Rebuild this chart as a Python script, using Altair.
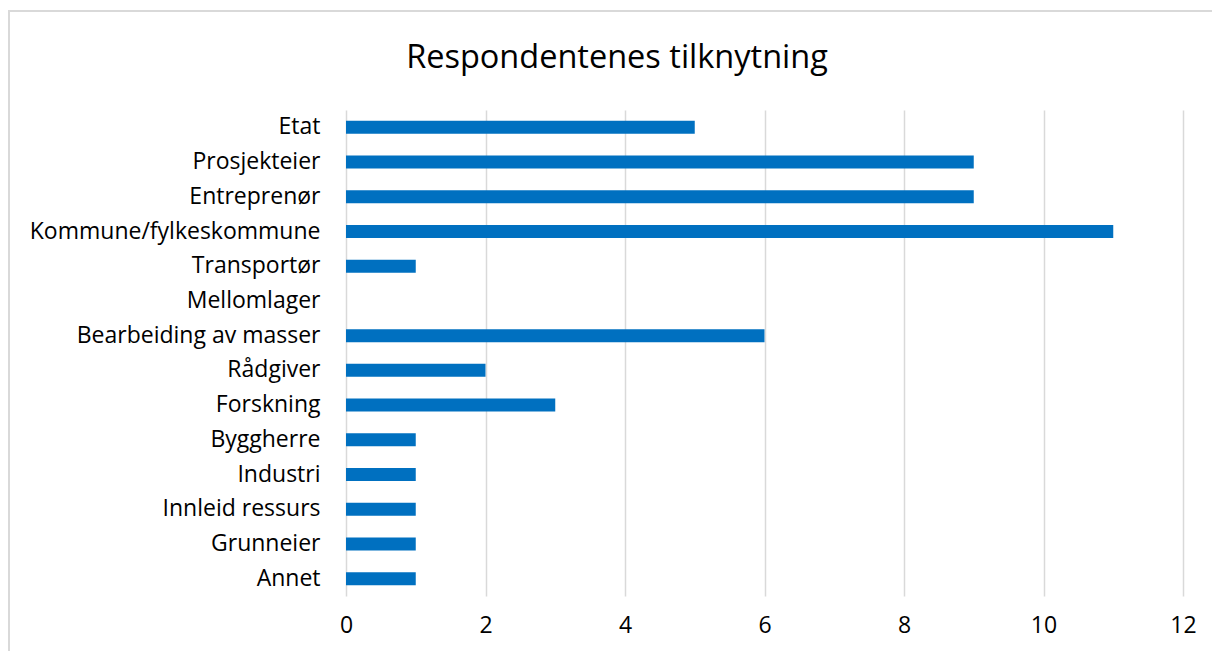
import altair as alt
import pandas as pd

categories = ["Etat", "Prosjekteier", "Entreprenør", "Kommune/fylkeskommune", "Transportør",
              "Mellomlager", "Bearbeiding av masser", "Rådgiver", "Forskning", "Byggherre",
              "Industri", "Innleid ressurs", "Grunneier", "Annet"]
values = [5, 9, 9, 11, 1, 0, 6, 2, 3, 1, 1, 1, 1, 1]
x_ticks = [0, 2, 4, 6, 8, 10, 12]
title_text = "Respondentenes tilknytning"

df = pd.DataFrame({"kategori": categories, "antall": values})
FONT = "Open Sans"
LSIZE = 23

frame = alt.Chart(alt.Data(values=[{}])).mark_rect(
    fillOpacity=0, stroke="#d9d9d9", strokeWidth=2
).encode(
    x=alt.value(-337), x2=alt.value(1200),
    y=alt.value(-99), y2=alt.value(1000)
)

bars = alt.Chart(df).mark_bar(color="#0070C0").encode(
    x=alt.X("antall:Q", scale=alt.Scale(domain=[0, 12], nice=False),
            axis=alt.Axis(values=x_ticks, title=None, grid=True, gridColor="#d9d9d9",
                          gridWidth=1.5, domain=False, ticks=False, labelPadding=18,
                          labelFlush=False, labelBound=False,
                          labelFontSize=LSIZE, labelFont=FONT, labelColor="#000000")),
    y=alt.Y("kategori:N", sort=categories,
            scale=alt.Scale(paddingInner=0.625, paddingOuter=0.3125),
            axis=alt.Axis(title=None, domain=False, ticks=False, labelPadding=26,
                          labelFontSize=LSIZE, labelFont=FONT, labelColor="#000000",
                          labelLimit=400))
)

title = alt.Chart(alt.Data(values=[{}])).mark_text(
    text=title_text, font=FONT, fontSize=32.5, color="#000000", align="center", baseline="middle"
).encode(x=alt.value(271), y=alt.value(-52))

chart = alt.layer(frame, bars, title).properties(
    width=837, height=486,
    autosize=alt.AutoSizeParams(type="none"),
    padding={"left": 346, "top": 110, "right": 29, "bottom": 55}
).configure(background="white", view=alt.ViewConfig(stroke=None))

chart.save("out.html", embed_options={"renderer": "svg", "actions": False})
